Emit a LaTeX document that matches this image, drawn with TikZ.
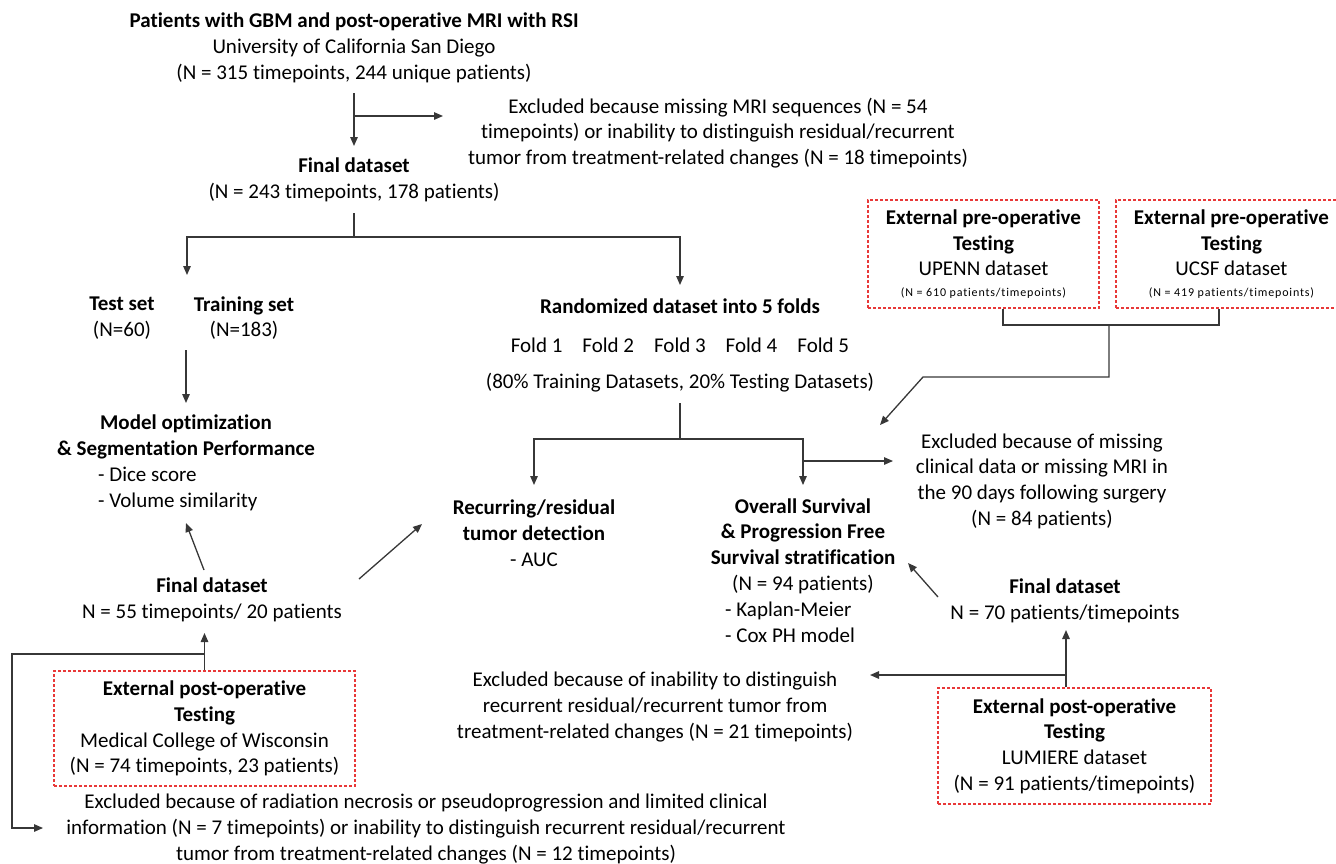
\documentclass[tikz,border=0pt]{standalone}
\usepackage{fontspec}
\setmainfont{Carlito}[Ligatures={NoCommon}]
\newfontfamily\spacedfont{Carlito}[LetterSpace=7, Ligatures={NoCommon}]
\usetikzlibrary{arrows.meta}
\definecolor{boxred}{RGB}{232,56,56}
\definecolor{linegray}{RGB}{55,55,55}
\begin{document}
\begin{tikzpicture}[x=1pt,y=-1pt,
  txt/.style={inner sep=0pt, align=center, font=\fontsize{21}{25.7}\selectfont, text=black},
  lst/.style={inner sep=0pt, align=left, anchor=west, font=\fontsize{21}{25.7}\selectfont, text=black},
  redbox/.style={draw=boxred, line width=1.3pt, dash pattern=on 3pt off 2pt, inner sep=0pt, align=center, font=\fontsize{21}{25.7}\selectfont, text=black},
  conn/.style={draw=linegray, line width=1.3pt},
  arr/.style={conn, -{Triangle[length=9pt,width=7.5pt]}}
]
\useasboundingbox (0,0) rectangle (1336,863);
\clip (0,0) rectangle (1336,863);

% ---------- nodes ----------
\node[txt] (top) at (354,48) {\textbf{Patients with GBM and post-operative MRI with RSI}\\University of California San Diego\\(N = 315 timepoints, 244 unique patients)};
\node[txt] (excl1) at (718,133) {Excluded because missing MRI sequences (N = 54\\timepoints) or inability to distinguish residual/recurrent\\tumor from treatment-related changes (N = 18 timepoints)};
\node[txt] (final1) at (354,180) {\textbf{Final dataset}\\(N = 243 timepoints, 178 patients)};
\node[txt] (test) at (122,318) {\textbf{Test set}\\(N=60)};
\node[txt] (train) at (244,318) {\textbf{Training set}\\(N=183)};
\node[txt] (rand) at (680,306) {\textbf{Randomized dataset into 5 folds}};
\node[txt] (folds) at (680,345) {Fold 1\hspace{20pt}Fold 2\hspace{20pt}Fold 3\hspace{20pt}Fold 4\hspace{20pt}Fold 5};
\node[txt] (pct) at (680,383) {(80\% Training Datasets, 20\% Testing Datasets)};
\node[txt] (model) at (186,437) {\textbf{Model optimization}\\\textbf{\& Segmentation Performance}};
\node[lst] (modellist) at (98,489) {- Dice score\\- Volume similarity};
\node[txt] (final2) at (212,600) {\textbf{Final dataset}\\N = 55 timepoints/ 20 patients};
\node[redbox, minimum width=301pt, minimum height=115pt] (mcw) at (204.5,728.5) {\textbf{External post-operative}\\\textbf{Testing}\\Medical College of Wisconsin\\(N = 74 timepoints, 23 patients)};
\node[txt] (excl3) at (426,829) {Excluded because of radiation necrosis or pseudoprogression and limited clinical\\information (N = 7 timepoints) or inability to distinguish recurrent residual/recurrent\\tumor from treatment-related changes (N = 12 timepoints)};
\node[txt] (rec) at (534,533) {\textbf{Recurring/residual}\\\textbf{tumor detection}\\- AUC};
\node[txt] (os) at (803,546) {\textbf{Overall Survival}\\\textbf{\& Progression Free}\\\textbf{Survival stratification}\\(N = 94 patients)};
\node[lst] (oslist) at (725,622) {- Kaplan-Meier\\- Cox PH model};
\node[txt] (excl2) at (1042,481) {Excluded because of missing\\clinical data or missing MRI in\\the 90 days following surgery\\(N = 84 patients)};
\node[redbox, minimum width=231pt, minimum height=108pt] (upenn) at (983.5,254) {\textbf{External pre-operative}\\\textbf{Testing}\\UPENN dataset\\[-5pt]{\spacedfont\fontsize{12}{14}\selectfont (N = 610 patients/timepoints)}};
\node[redbox, minimum width=231pt, minimum height=108pt] (ucsf) at (1231.5,254) {\textbf{External pre-operative}\\\textbf{Testing}\\UCSF dataset\\[-5pt]{\spacedfont\fontsize{12}{14}\selectfont (N = 419 patients/timepoints)}};
\node[txt] (final3) at (1065,601) {\textbf{Final dataset}\\N = 70 patients/timepoints};
\node[redbox, minimum width=273pt, minimum height=116pt] (lum) at (1074.5,746) {\textbf{External post-operative}\\\textbf{Testing}\\LUMIERE dataset\\(N = 91 patients/timepoints)};
\node[txt] (excl4) at (655,707) {Excluded because of inability to distinguish\\recurrent residual/recurrent tumor from\\treatment-related changes (N = 21 timepoints)};

% ---------- connectors ----------
\coordinate (b1) at (354,116);
\coordinate (b1e) at (443,116);
\draw[arr] (top.south |- 0,93) -- (final1.north |- 0,146);
\draw[arr] (b1) -- (b1e);

\coordinate (j1) at (354,237);
\coordinate (setsin) at (187,275);
\draw[conn] (final1.south |- 0,213) -- (j1);
\draw[arr] (j1) -| (setsin);
\draw[arr] (j1) -| (rand.north |- 0,285);

\draw[arr] (model.north |- 0,350) -- (model.north |- 0,403);
\coordinate (f2a) at (204,570);
\coordinate (f2b) at (186,523);
\draw[arr] (f2a) -- (f2b);
\coordinate (f2c) at (359,579);
\coordinate (f2d) at (422,524);
\draw[arr] (f2c) -- (f2d);

\draw[arr] (mcw.north) -- (mcw.north |- 0,633);
\coordinate (m1) at (12,654);
\coordinate (m2) at (12,828);
\coordinate (m3) at (43,828);
\draw[arr] (mcw.north |- m1) -- (m1) -- (m2) -- (m3);

\coordinate (j2) at (680,439);
\draw[conn] (pct.south |- 0,403) -- (j2);
\draw[arr] (j2) -| (rec.north |- 0,485);
\draw[arr] (j2) -| (os.north |- 0,485);
\coordinate (o1) at (804,461);
\coordinate (o2) at (893,461);
\draw[arr] (o1) -- (o2);

\coordinate (u1) at (1003,325);
\coordinate (u2) at (1219,325);
\draw[conn] (upenn.south -| u1) -- (u1) -- (u2) -- (ucsf.south -| u2);
\coordinate (u3) at (1109,325);
\coordinate (u4) at (1109,377);
\coordinate (u5) at (923,377);
\coordinate (u6) at (880,425);
\draw[arr] (u3) -- (u4) -- (u5) -- (u6);

\coordinate (f3a) at (938,597);
\coordinate (f3b) at (908,563);
\draw[arr] (f3a) -- (f3b);
\coordinate (l1) at (1066,630);
\coordinate (l2) at (1066,675);
\coordinate (l3) at (870,675);
\draw[arr] (lum.north -| l1) -- (l1);
\draw[arr] (l2) -- (l3);
\end{tikzpicture}
\end{document}
